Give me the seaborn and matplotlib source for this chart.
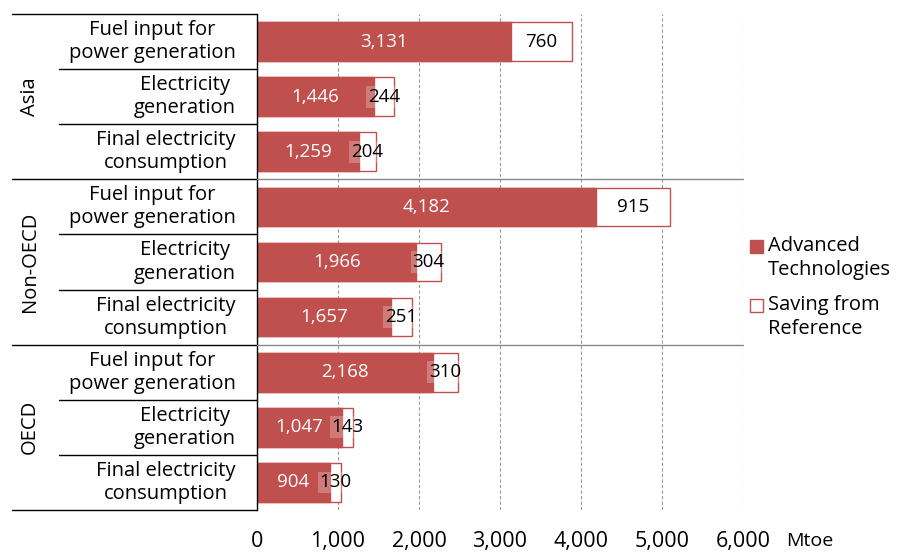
import matplotlib
matplotlib.use('Agg')
import matplotlib.pyplot as plt
from matplotlib.patches import Rectangle
from matplotlib.lines import Line2D
import seaborn as sns
import pandas as pd

regions = ['Asia', 'Non-OECD', 'OECD']
measures = ['Fuel input for\npower generation', 'Electricity\ngeneration', 'Final electricity\nconsumption']
advanced = [3131, 1446, 1259, 4182, 1966, 1657, 2168, 1047, 904]
saving = [760, 244, 204, 915, 304, 251, 310, 143, 130]
x_ticks = [0, 1000, 2000, 3000, 4000, 5000, 6000]

sns.set_style('white')
plt.rcParams['font.family'] = ['Open Sans', 'DejaVu Sans']
plt.rcParams['text.color'] = 'black'
plt.rcParams['xtick.color'] = 'black'

rows = [f'{r}|{m}' for r in regions for m in measures]
df = pd.DataFrame({'row': rows, 'advanced': advanced, 'saving': saving})
df['total'] = df['advanced'] + df['saving']

W, H = 898, 552
fig = plt.figure(figsize=(W / 100, H / 100), dpi=100)
x0, x1, y0, y1 = 257, 743, 14, 510
ax = fig.add_axes([x0 / W, 1 - y1 / H, (x1 - x0) / W, (y1 - y0) / H])

red = '#C0504D'
sns.barplot(data=df, x='total', y='row', order=rows, color='white', edgecolor=red,
            linewidth=1, width=0.7, ax=ax, saturation=1, zorder=2)
sns.barplot(data=df, x='advanced', y='row', order=rows, color=red, edgecolor=red,
            linewidth=1, width=0.7, ax=ax, saturation=1, zorder=3)

ax.set_xlim(0, 6000)
ax.set_ylim(len(rows) - 0.5, -0.5)
ax.set_xticks(x_ticks)
ax.set_xticklabels([f'{v:,}' for v in x_ticks], fontsize=15.5, color='black')
ax.tick_params(axis='x', length=0, pad=15)
ax.set_yticks([])
ax.set_xlabel('')
ax.set_ylabel('')
ax.xaxis.grid(True, linestyle=(0, (3, 2)), color='#999999', linewidth=0.8, zorder=0)
ax.set_axisbelow(True)
for s in ['top', 'right', 'bottom']:
    ax.spines[s].set_visible(False)
ax.spines['left'].set_color('black')
ax.spines['left'].set_linewidth(1)
ax.spines['left'].set_zorder(5)

# value labels
for i, (a, s) in enumerate(zip(advanced, saving)):
    ax.text(a / 2, i, f'{a:,}', ha='center', va='center', color='white', fontsize=13.5, zorder=6)
    ax.text(a + s / 2, i, f'{s:,}', ha='center', va='center', color='black', fontsize=13.5, zorder=6,
            bbox=dict(boxstyle='square,pad=0.1', facecolor='white', edgecolor='none', alpha=0.25))

# category labels and table lines
def fy(py):
    return 1 - py / H

row_h = (y1 - y0) / len(rows)
for i, r in enumerate(rows):
    cy = y0 + row_h * (i + 0.5)
    fig.text(236 / W, fy(cy), r.split('|')[1], ha='right', va='center', multialignment='center',
             fontsize=14.5, linespacing=1.2)
for g, reg in enumerate(regions):
    cy = y0 + row_h * (3 * g + 1.5)
    fig.text(30 / W, fy(cy), reg, ha='center', va='center', rotation=90, fontsize=14.5)

fig.add_artist(Line2D([12 / W, x0 / W], [fy(y0), fy(y0)], color='black', lw=1))
fig.add_artist(Line2D([12 / W, x0 / W], [fy(y1), fy(y1)], color='black', lw=1))
for k in range(1, len(rows)):
    py = y0 + row_h * k
    if k % 3 == 0:
        fig.add_artist(Line2D([12 / W, x0 / W], [fy(py), fy(py)], color='black', lw=1))
        fig.add_artist(Line2D([x0 / W, x1 / W], [fy(py), fy(py)], color='#888888', lw=1))
    else:
        fig.add_artist(Line2D([59 / W, x0 / W], [fy(py), fy(py)], color='black', lw=1))

fig.text(786 / W, fy(541), 'Mtoe', ha='left', va='center', fontsize=14)

# legend
fig.add_artist(Rectangle((750 / W, fy(253)), 13 / W, 13 / H, facecolor=red, edgecolor=red, lw=1))
fig.text(768 / W, fy(258), 'Advanced\nTechnologies', ha='left', va='center', fontsize=14.5, linespacing=1.25)
fig.add_artist(Rectangle((750 / W, fy(312)), 13 / W, 13 / H, facecolor='white', edgecolor=red, lw=1))
fig.text(768 / W, fy(317), 'Saving from\nReference', ha='left', va='center', fontsize=14.5, linespacing=1.25)

fig.savefig('out.png', dpi=100)
